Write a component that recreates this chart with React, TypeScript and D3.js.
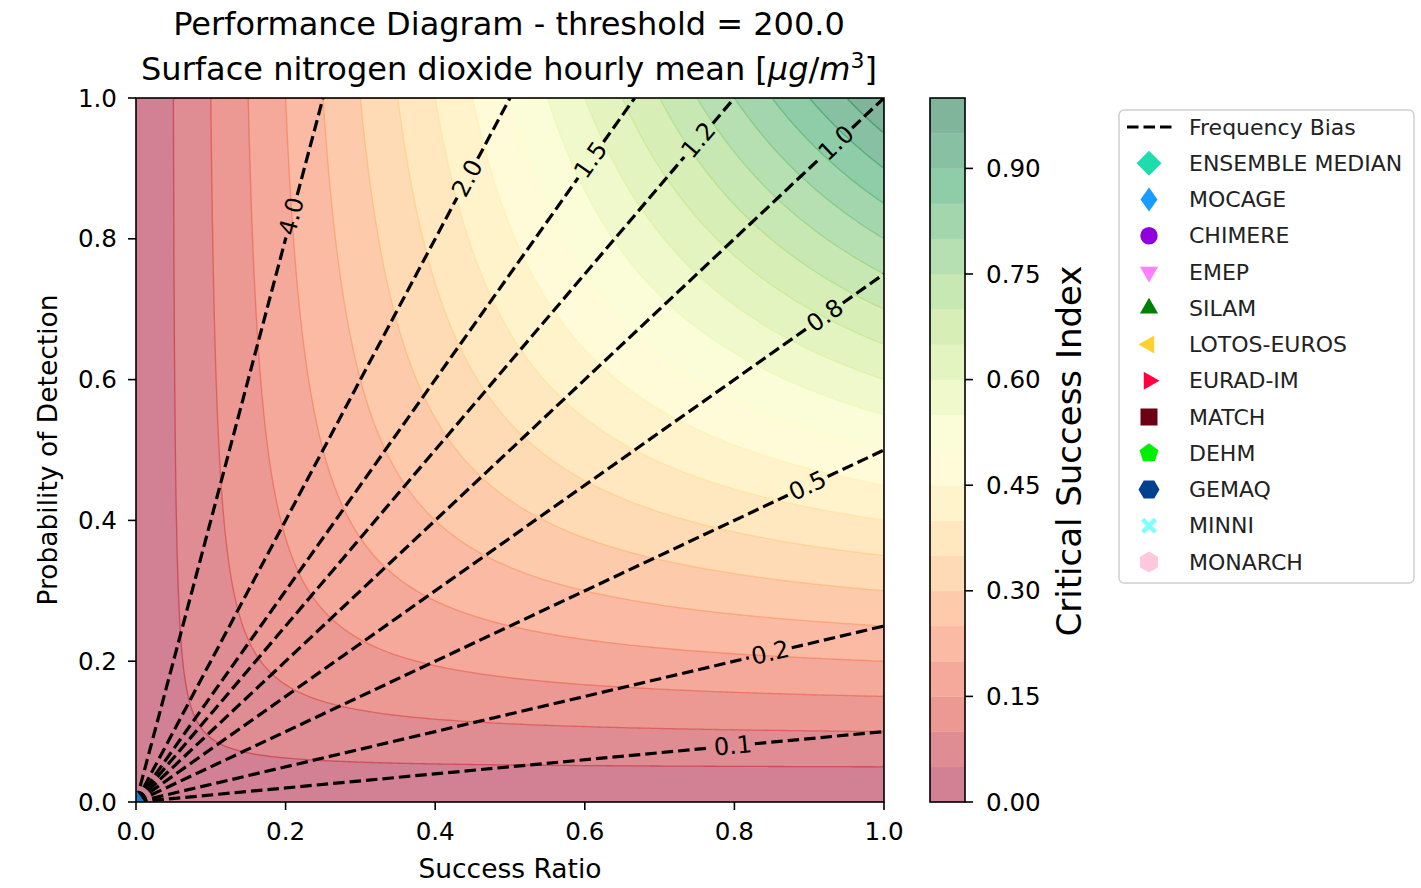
import React from "react";
import * as d3 from "d3";

// ---- data ----
const X_TICKS = [0.0, 0.2, 0.4, 0.6, 0.8, 1.0];
const Y_TICKS = [0.0, 0.2, 0.4, 0.6, 0.8, 1.0];
const CSI_LEVELS = [
  0.0, 0.05, 0.1, 0.15, 0.2, 0.25, 0.3, 0.35, 0.4, 0.45, 0.5,
  0.55, 0.6, 0.65, 0.7, 0.75, 0.8, 0.85, 0.9, 0.95, 1.0,
];
const CBAR_TICKS = [0.0, 0.15, 0.3, 0.45, 0.6, 0.75, 0.9];
const BIAS_VALUES = [0.1, 0.25, 0.5, 0.75, 1.0, 1.25, 1.5, 2.0, 4.0];
// success ratio at which each bias label sits
const BIAS_LABEL_SR = [0.798, 0.848, 0.898, 0.921, 0.936, 0.752, 0.608, 0.443, 0.208];

const RDYLGN = [
  "#a50026", "#d73027", "#f46d43", "#fdae61", "#fee08b", "#ffffbf",
  "#d9ef8b", "#a6d96a", "#66bd63", "#1a9850", "#006837",
];

const MODEL_NAMES = [
  "ENSEMBLE MEDIAN", "MOCAGE", "CHIMERE", "EMEP", "SILAM", "LOTOS-EUROS",
  "EURAD-IM", "MATCH", "DEHM", "GEMAQ", "MINNI", "MONARCH",
];
const MODEL_COLORS = [
  "#1edcad", "#1a9cff", "#9000de", "#ff80ff", "#008000", "#ffd030",
  "#ff0040", "#6b0015", "#00ee00", "#00408f", "#80ffff", "#ffc8dc",
];
const MODEL_MARKERS = ["D", "d", "o", "v", "^", "<", ">", "s", "p", "H", "X", "h"];
// success ratio / probability of detection per model (NaN = no hits)
const MODEL_SR = [NaN, 0.0, NaN, NaN, NaN, NaN, NaN, NaN, NaN, NaN, NaN, NaN];
const MODEL_POD = [NaN, 0.0, NaN, NaN, NaN, NaN, NaN, NaN, NaN, NaN, NaN, NaN];

// ---- layout ----
const W = 1421;
const H = 888;
const PL = 136, PR = 884, PT = 98, PB = 802;
const CB_L = 930, CB_R = 965;
const FONT = "DejaVu Sans, Verdana, sans-serif";

const xScale = d3.scaleLinear().domain([0, 1]).range([PL, PR]);
const yScale = d3.scaleLinear().domain([0, 1]).range([PB, PT]);
const cbScale = d3.scaleLinear().domain([0, 1]).range([PB, PT]);

const cmap = d3
  .scaleLinear<string>()
  .domain(RDYLGN.map((_, i) => i / (RDYLGN.length - 1)))
  .range(RDYLGN)
  .interpolate(d3.interpolateRgb);

const nBands = CSI_LEVELS.length - 1;
// contourf colours: band midpoints normalised over the band range, alpha 0.5 on white
const bandColor = (k: number) =>
  d3.interpolateRgb("#ffffff", cmap(k / (nBands - 1)))(0.5);

const csi = (sr: number, pod: number) =>
  sr <= 0 || pod <= 0 ? 0 : 1 / (1 / sr + 1 / pod - 1);

// round-half-even one decimal formatting for contour labels
function fmtBias(v: number) {
  const x = v * 10;
  const f = Math.floor(x);
  const d = x - f;
  let r = f;
  if (d > 0.5 + 1e-9) r = f + 1;
  else if (Math.abs(d - 0.5) <= 1e-9) r = f % 2 === 0 ? f : f + 1;
  return (r / 10).toFixed(1);
}

function regularPolygon(n: number, r: number, rotDeg: number) {
  const pts: [number, number][] = [];
  for (let i = 0; i < n; i++) {
    const a = ((rotDeg + (360 * i) / n) * Math.PI) / 180;
    pts.push([r * Math.sin(a), -r * Math.cos(a)]);
  }
  return "M" + pts.map((p) => p.join(",")).join("L") + "Z";
}

function markerPath(m: string) {
  switch (m) {
    case "D":
      return regularPolygon(4, 12.5, 0);
    case "d":
      return "M0,-12L8.5,0L0,12L-8.5,0Z";
    case "o":
      return d3.symbol(d3.symbolCircle, Math.PI * 8.7 * 8.7)()!;
    case "v":
      return regularPolygon(3, 10.5, 180);
    case "^":
      return regularPolygon(3, 10.5, 0);
    case "<":
      return regularPolygon(3, 10.5, 270);
    case ">":
      return regularPolygon(3, 10.5, 90);
    case "s":
      return "M-8.5,-8.5L8.5,-8.5L8.5,8.5L-8.5,8.5Z";
    case "p":
      return regularPolygon(5, 10, 0);
    case "H":
      return regularPolygon(6, 10.5, 90);
    case "h":
      return regularPolygon(6, 10.5, 0);
    case "X": {
      const a = 3.2, b = 8;
      const pts = [
        [0, -a], [b - a, -b], [b, -(b - a)], [a, 0], [b, b - a], [b - a, b],
        [0, a], [-(b - a), b], [-b, b - a], [-a, 0], [-b, -(b - a)], [-(b - a), -b],
      ];
      return "M" + pts.map((p) => p.join(",")).join("L") + "Z";
    }
    default:
      return "";
  }
}

// CSI field and its filled contours
const N = 240;
const field = new Float64Array(N * N);
for (let j = 0; j < N; j++) {
  for (let i = 0; i < N; i++) {
    field[j * N + i] = csi((i + 0.5) / N, (j + 0.5) / N);
  }
}
const contourSet = d3
  .contours()
  .size([N, N])
  .smooth(true)
  .thresholds(CSI_LEVELS.slice(1, -1))(Array.from(field));

function multiPolygonPath(coords: number[][][][]) {
  let s = "";
  for (const poly of coords) {
    for (const ring of poly) {
      s +=
        "M" +
        ring
          .map(([cx, cy]) => `${xScale(cx / N).toFixed(2)},${yScale(cy / N).toFixed(2)}`)
          .join("L") +
        "Z";
    }
  }
  return s;
}

export default function App() {
  const tickFont = 24.6;

  const biasLines = BIAS_VALUES.map((b, idx) => {
    const p0 = [xScale(0), yScale(0)];
    const p1 = b >= 1 ? [xScale(1 / b), yScale(1)] : [xScale(1), yScale(b)];
    const sr = BIAS_LABEL_SR[idx];
    const pc = [xScale(sr), yScale(b * sr)];
    const dx = p1[0] - p0[0];
    const dy = p1[1] - p0[1];
    const len = Math.hypot(dx, dy);
    const u = [dx / len, dy / len];
    const gap = 22;
    const a = [pc[0] - u[0] * gap, pc[1] - u[1] * gap];
    const c = [pc[0] + u[0] * gap, pc[1] + u[1] * gap];
    const angle = (Math.atan2(dy, dx) * 180) / Math.PI;
    return { b, p0, p1, a, c, pc, angle };
  });

  return (
    <svg
      width={W}
      height={H}
      style={{ position: "absolute", left: 0, top: 0, background: "#fff" }}
      fontFamily={FONT}
    >
      <defs>
        <clipPath id="plotClip">
          <rect x={PL} y={PT} width={PR - PL} height={PB - PT} />
        </clipPath>
      </defs>

      {/* title */}
      <text x={509} y={35} fontSize={32} textAnchor="middle" fill="#000">
        Performance Diagram - threshold = 200.0
      </text>
      <text x={509} y={80} fontSize={32} textAnchor="middle" fill="#000">
        Surface nitrogen dioxide hourly mean [
        <tspan fontStyle="italic">μg</tspan>/<tspan fontStyle="italic">m</tspan>
        <tspan dy={-12} fontSize={22}>3</tspan>
        <tspan dy={12}>]</tspan>
      </text>

      {/* filled CSI contours */}
      <g clipPath="url(#plotClip)">
        <rect x={PL} y={PT} width={PR - PL} height={PB - PT} fill={bandColor(0)} />
        {contourSet.map((c, k) => (
          <path key={"f" + k} d={multiPolygonPath(c.coordinates as any)} fill={bandColor(k + 1)} />
        ))}
        {contourSet.map((c, k) => (
          <path
            key={"l" + k}
            d={multiPolygonPath(c.coordinates as any)}
            fill="none"
            stroke={cmap(c.value)}
            strokeOpacity={0.5}
            strokeWidth={1.3}
          />
        ))}

        {/* frequency bias lines */}
        {biasLines.map((l) => (
          <g key={"b" + l.b}>
            <path
              d={`M${l.p0[0]},${l.p0[1]}L${l.a[0]},${l.a[1]}`}
              stroke="#000"
              strokeWidth={3.2}
              strokeDasharray="11.5 5"
              fill="none"
            />
            <path
              d={`M${l.c[0]},${l.c[1]}L${l.p1[0]},${l.p1[1]}`}
              stroke="#000"
              strokeWidth={3.2}
              strokeDasharray="11.5 5"
              fill="none"
            />
          </g>
        ))}

        {/* model points */}
        {MODEL_NAMES.map((name, i) =>
          Number.isFinite(MODEL_SR[i]) && Number.isFinite(MODEL_POD[i]) ? (
            <path
              key={name}
              d={markerPath(MODEL_MARKERS[i])}
              transform={`translate(${xScale(MODEL_SR[i])},${yScale(MODEL_POD[i])})`}
              fill={MODEL_COLORS[i]}
              fillOpacity={0.8}
            />
          ) : null
        )}
      </g>
      {biasLines.map((l) => (
        <text
          key={"t" + l.b}
          transform={`translate(${l.pc[0]},${l.pc[1]}) rotate(${l.angle})`}
          textAnchor="middle"
          dominantBaseline="central"
          fontSize={24}
          fill="#000"
        >
          {fmtBias(l.b)}
        </text>
      ))}

      {/* axes frame */}
      <rect x={PL} y={PT} width={PR - PL} height={PB - PT} fill="none" stroke="#000" strokeWidth={1.6} />

      {/* x axis */}
      {X_TICKS.map((t) => (
        <g key={"x" + t}>
          <line x1={xScale(t)} x2={xScale(t)} y1={PB} y2={PB + 8} stroke="#000" strokeWidth={1.6} />
          <text x={xScale(t)} y={840} fontSize={tickFont} textAnchor="middle" fill="#000">
            {d3.format(".1f")(t)}
          </text>
        </g>
      ))}
      <text x={510} y={878} fontSize={26.5} textAnchor="middle" fill="#000">
        Success Ratio
      </text>

      {/* y axis */}
      {Y_TICKS.map((t) => (
        <g key={"y" + t}>
          <line x1={PL - 8} x2={PL} y1={yScale(t)} y2={yScale(t)} stroke="#000" strokeWidth={1.6} />
          <text
            x={117}
            y={yScale(t)}
            fontSize={tickFont}
            textAnchor="end"
            dominantBaseline="central"
            fill="#000"
          >
            {d3.format(".1f")(t)}
          </text>
        </g>
      ))}
      <text
        transform={`translate(57,450) rotate(-90)`}
        fontSize={26.5}
        textAnchor="middle"
        fill="#000"
      >
        Probability of Detection
      </text>

      {/* colour bar */}
      {CSI_LEVELS.slice(0, -1).map((lv, k) => (
        <rect
          key={"cb" + k}
          x={CB_L}
          y={cbScale(CSI_LEVELS[k + 1])}
          width={CB_R - CB_L}
          height={cbScale(lv) - cbScale(CSI_LEVELS[k + 1]) + 0.3}
          fill={bandColor(k)}
        />
      ))}
      <rect x={CB_L} y={PT} width={CB_R - CB_L} height={PB - PT} fill="none" stroke="#000" strokeWidth={1.6} />
      {CBAR_TICKS.map((t) => (
        <g key={"c" + t}>
          <line x1={CB_R} x2={CB_R + 8} y1={cbScale(t)} y2={cbScale(t)} stroke="#000" strokeWidth={1.6} />
          <text
            x={986}
            y={cbScale(t)}
            fontSize={tickFont}
            dominantBaseline="central"
            fill="#000"
          >
            {d3.format(".2f")(t)}
          </text>
        </g>
      ))}
      <text
        transform={`translate(1081,451) rotate(-90)`}
        fontSize={34}
        textAnchor="middle"
        fill="#000"
      >
        Critical Success Index
      </text>

      {/* legend */}
      <rect
        x={1119}
        y={110}
        width={295}
        height={473}
        rx={5}
        fill="#fff"
        fillOpacity={0.8}
        stroke="#d0d0d0"
        strokeWidth={1.5}
      />
      <line x1={1127} x2={1172} y1={127} y2={127} stroke="#000" strokeWidth={3} strokeDasharray="11.5 5" />
      <text x={1189} y={127} fontSize={22} dominantBaseline="central" fill="#222">
        Frequency Bias
      </text>
      {MODEL_NAMES.map((name, i) => {
        const yy = 127 + 36.25 * (i + 1);
        return (
          <g key={"lg" + name}>
            <path d={markerPath(MODEL_MARKERS[i])} transform={`translate(1149,${yy})`} fill={MODEL_COLORS[i]} />
            <text x={1189} y={yy} fontSize={22} dominantBaseline="central" fill="#222">
              {name}
            </text>
          </g>
        );
      })}
    </svg>
  );
}
